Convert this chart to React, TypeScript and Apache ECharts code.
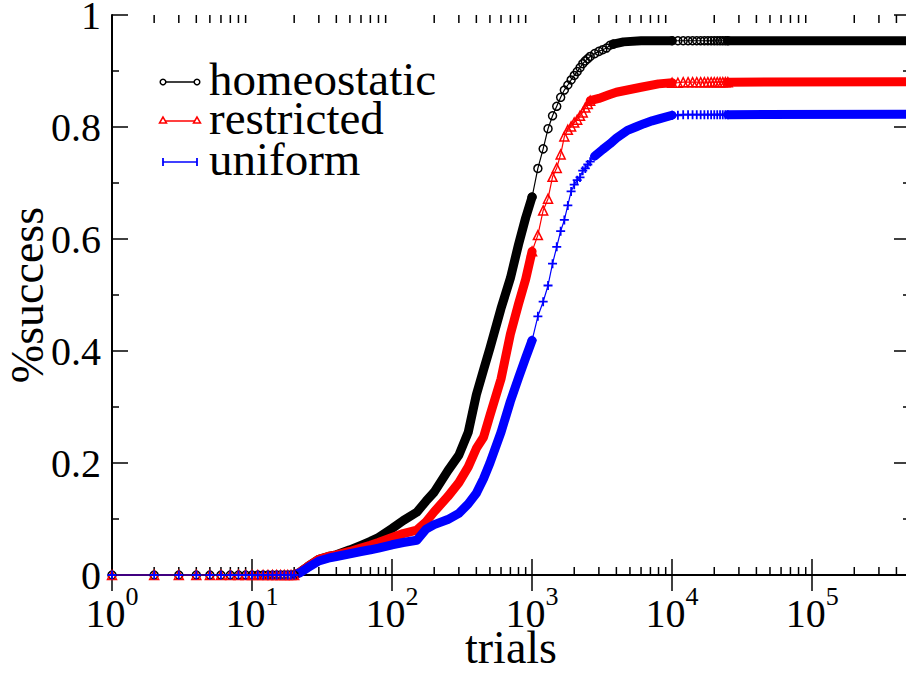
import React, { useEffect, useRef } from "react";
import * as echarts from "echarts";

const FONT = '"Liberation Serif", "Times New Roman", Times, serif';

// ---- axis ticks ----
const xMajorExponents = [0, 1, 2, 3, 4, 5];
const yTickValues = [0, 0.2, 0.4, 0.6, 0.8, 1];
const yTickLabels = ["0", "0.2", "0.4", "0.6", "0.8", "1"];

// ---- data: trials 1..20 (all three curves still at zero) ----
const zeroTrials = [1, 2, 3, 4, 5, 6, 7, 8, 9, 10, 11, 12, 13, 14, 15, 16, 17, 18, 19, 20];
const zeroSuccess = [0, 0, 0, 0, 0, 0, 0, 0, 0, 0, 0, 0, 0, 0, 0, 0, 0, 0, 0, 0];

// ---- dense region (every trial sampled, markers merge into a band) ----
const bandTrials = [20, 22, 25, 30, 35, 40, 50, 60, 70, 80, 100, 120, 150, 175, 200, 250, 300, 350, 400, 450, 500, 600, 700, 800, 900, 1000];
const homeoBand = [0, 0.005, 0.015, 0.028, 0.033, 0.036, 0.045, 0.053, 0.06, 0.067, 0.083, 0.097, 0.112, 0.132, 0.148, 0.186, 0.214, 0.255, 0.322, 0.366, 0.405, 0.476, 0.53, 0.59, 0.638, 0.675];
const restrBand = [0, 0.005, 0.015, 0.028, 0.033, 0.036, 0.042, 0.048, 0.053, 0.058, 0.067, 0.074, 0.08, 0.095, 0.113, 0.14, 0.165, 0.193, 0.226, 0.246, 0.285, 0.35, 0.43, 0.484, 0.528, 0.578];
const unifBand = [0, 0.004, 0.013, 0.025, 0.03, 0.033, 0.038, 0.042, 0.045, 0.048, 0.054, 0.058, 0.062, 0.082, 0.09, 0.099, 0.11, 0.127, 0.146, 0.172, 0.2, 0.255, 0.31, 0.352, 0.388, 0.419];

// ---- sparse region (individual markers visible) ----
const homeoSparseTrials = [1000, 1100, 1200, 1300, 1400, 1500, 1600, 1700, 1800, 1900, 2000, 2100, 2200, 2300, 2400, 2500, 2600, 2800, 3000, 3200, 3400, 3600, 3800];
const homeoSparse = [0.675, 0.726, 0.761, 0.797, 0.82, 0.837, 0.853, 0.866, 0.875, 0.884, 0.892, 0.899, 0.906, 0.913, 0.918, 0.922, 0.926, 0.931, 0.935, 0.938, 0.941, 0.946, 0.948];
const restrSparseTrials = [1000, 1100, 1200, 1300, 1400, 1500, 1600, 1700, 1800, 1900, 2000, 2100, 2200, 2300, 2400, 2500, 2600];
const restrSparse = [0.578, 0.607, 0.651, 0.672, 0.711, 0.727, 0.751, 0.783, 0.795, 0.801, 0.808, 0.813, 0.82, 0.826, 0.835, 0.841, 0.847];
const unifSparseTrials = [1000, 1100, 1200, 1300, 1400, 1500, 1600, 1700, 1800, 1900, 2000, 2100, 2200, 2300, 2400, 2500, 2600, 2800];
const unifSparse = [0.419, 0.462, 0.488, 0.517, 0.556, 0.586, 0.614, 0.634, 0.66, 0.685, 0.697, 0.705, 0.71, 0.722, 0.726, 0.733, 0.738, 0.748];

// ---- second dense region, up to 10^4 ----
const homeoMidTrials = [3800, 4500, 6000, 10000];
const homeoMid = [0.948, 0.952, 0.954, 0.954];
const restrMidTrials = [2600, 3000, 3500, 4000, 5000, 6000, 8000, 10000];
const restrMid = [0.847, 0.851, 0.857, 0.862, 0.867, 0.871, 0.877, 0.879];
const unifMidTrials = [2800, 3200, 3600, 4000, 4800, 5500, 6300, 7200, 8200, 10000];
const unifMid = [0.748, 0.76, 0.77, 0.78, 0.794, 0.8, 0.806, 0.811, 0.815, 0.821];

// ---- plateau markers after 10^4 ----
const plateauTrials = [10000, 11000, 12000, 13000, 14000, 15000, 16000, 17000, 18000, 19000, 20000, 21000, 22000, 23000, 24000, 25000];
const homeoPlateau = [0.954, 0.954, 0.954, 0.954, 0.954, 0.954, 0.954, 0.954, 0.954, 0.954, 0.954, 0.954, 0.954, 0.954, 0.954, 0.954];
const restrPlateau = [0.879, 0.879, 0.88, 0.88, 0.88, 0.88, 0.88, 0.88, 0.88, 0.88, 0.88, 0.88, 0.88, 0.88, 0.88, 0.88];
const unifPlateau = [0.821, 0.821, 0.822, 0.822, 0.822, 0.822, 0.822, 0.822, 0.822, 0.822, 0.822, 0.822, 0.822, 0.822, 0.822, 0.822];

// ---- tail (dense again) ----
const tailTrials = [25000, 500000];
const homeoTail = [0.954, 0.954];
const restrTail = [0.88, 0.881];
const unifTail = [0.822, 0.823];

const BLACK = "#000000";
const RED = "#ff0000";
const BLUE = "#0000ff";
const PLUS = "path://M4,0H6V4H10V6H6V10H4V6H0V4H4Z";

const pairs = (xs: number[], ys: number[]) => xs.map((x, i) => [x, ys[i]]);

const band = (data: number[][], color: string) => ({
  type: "line",
  data,
  symbol: "none",
  clip: false,
  silent: true,
  lineStyle: { color, width: 9, cap: "round", join: "round" },
  emphasis: { disabled: true },
});

const marks = (data: number[][], color: string, symbol: string) => {
  const isPlus = symbol === PLUS;
  return {
    type: "line",
    data,
    symbol,
    symbolSize: isPlus ? 9 : symbol === "triangle" ? 9 : 8,
    showSymbol: true,
    showAllSymbol: true,
    clip: false,
    silent: true,
    lineStyle: { color, width: 1.2 },
    itemStyle: isPlus
      ? { color, borderWidth: 0 }
      : { color: "rgba(255,255,255,0)", borderColor: color, borderWidth: 1.5 },
    emphasis: { disabled: true },
  };
};

const curve = (
  color: string,
  symbol: string,
  bandY: number[],
  sparseX: number[],
  sparseY: number[],
  midX: number[],
  midY: number[],
  platY: number[],
  tailY: number[]
) => [
  band(pairs(bandTrials, bandY), color),
  marks(pairs(zeroTrials, zeroSuccess), color, symbol),
  marks(pairs(sparseX, sparseY), color, symbol),
  band(pairs(midX, midY), color),
  marks(pairs(plateauTrials, platY), color, symbol),
  band(pairs(tailTrials, tailY), color),
];

const minorTicks: number[] = [];
xMajorExponents.forEach((e) => {
  for (let m = 2; m <= 9; m++) {
    const v = m * Math.pow(10, e);
    if (v < 500000) minorTicks.push(v);
  }
});

export default function App() {
  const ref = useRef<HTMLDivElement>(null);
  useEffect(() => {
    if (!ref.current) return;
    const chart = echarts.init(ref.current, null, { renderer: "svg" });

    const axisLine = { show: true, lineStyle: { color: "#000", width: 2 } };
    const xLabelFormatter = (v: number) => {
      const e = Math.log10(v);
      const r = Math.round(e);
      if (Math.abs(e - r) > 1e-6 || xMajorExponents.indexOf(r) < 0) return "";
      return `{b|10}{s|${r}}`;
    };

    const option: any = {
      animation: false,
      backgroundColor: "#fff",
      grid: { left: 112, top: 15, width: 798, height: 560, containLabel: false, outerBoundsMode: "none" },
      xAxis: [
        {
          type: "log",
          logBase: 10,
          min: 1,
          max: 500000,
          position: "bottom",
          axisLine,
          axisTick: { show: true, inside: true, length: 16, lineStyle: { color: "#000", width: 1.5 } },
          splitLine: { show: false },
          axisLabel: {
            margin: 8,
            formatter: xLabelFormatter,
            rich: {
              b: { fontSize: 40, fontFamily: FONT, color: "#000", lineHeight: 38, verticalAlign: "top", padding: [10, 0, 0, 0] },
              s: { fontSize: 26, fontFamily: FONT, color: "#000", lineHeight: 4, verticalAlign: "top" },
            },
          },
          name: "trials",
          nameLocation: "middle",
          nameGap: 55,
          nameMoveOverlap: false,
          nameTextStyle: { fontSize: 46, fontFamily: FONT, color: "#000", lineHeight: 34 },
        },
        {
          type: "log",
          logBase: 10,
          min: 1,
          max: 500000,
          position: "top",
          axisLine,
          axisTick: { show: true, inside: true, length: 16, lineStyle: { color: "#000", width: 1.5 } },
          axisLabel: { show: false },
          splitLine: { show: false },
        },
      ],
      yAxis: [
        {
          type: "value",
          min: 0,
          max: 1,
          interval: 0.2,
          position: "left",
          axisLine,
          axisTick: { show: true, inside: true, length: 16, lineStyle: { color: "#000", width: 1.5 } },
          minorTick: { show: true, splitNumber: 2, length: 7, lineStyle: { color: "#000", width: 1.5 } },
          splitLine: { show: false },
          axisLabel: {
            margin: 11,
            fontSize: 40,
            lineHeight: 28,
            fontFamily: FONT,
            color: "#000",
            formatter: (v: number) => {
              const i = yTickValues.findIndex((t) => Math.abs(t - v) < 1e-9);
              return i >= 0 ? yTickLabels[i] : "";
            },
          },
          name: "%success",
          nameLocation: "middle",
          nameGap: 65,
          nameMoveOverlap: false,
          nameTextStyle: { fontSize: 46, fontFamily: FONT, color: "#000", lineHeight: 40 },
        },
        {
          type: "value",
          min: 0,
          max: 1,
          interval: 0.2,
          position: "right",
          axisLine,
          axisTick: { show: true, inside: true, length: 16, lineStyle: { color: "#000", width: 1.5 } },
          minorTick: { show: true, splitNumber: 2, length: 7, lineStyle: { color: "#000", width: 1.5 } },
          splitLine: { show: false },
          axisLabel: { show: false },
        },
      ],
      series: [
        {
          type: "custom",
          xAxisIndex: 0,
          yAxisIndex: 0,
          silent: true,
          clip: false,
          data: minorTicks.map((v) => [v, 0]),
          renderItem: (_params: any, api: any) => {
            const v = api.value(0);
            const b = api.coord([v, 0]);
            const t = api.coord([v, 1]);
            return {
              type: "group",
              children: [
                { type: "line", shape: { x1: b[0], y1: b[1], x2: b[0], y2: b[1] - 8 }, style: { stroke: "#000", lineWidth: 1.5 } },
                { type: "line", shape: { x1: t[0], y1: t[1], x2: t[0], y2: t[1] + 8 }, style: { stroke: "#000", lineWidth: 1.5 } },
              ],
            };
          },
        },
        ...curve(BLACK, "circle", homeoBand, homeoSparseTrials, homeoSparse, homeoMidTrials, homeoMid, homeoPlateau, homeoTail),
        ...curve(RED, "triangle", restrBand, restrSparseTrials, restrSparse, restrMidTrials, restrMid, restrPlateau, restrTail),
        ...curve(BLUE, PLUS, unifBand, unifSparseTrials, unifSparse, unifMidTrials, unifMid, unifPlateau, unifTail),
      ],
      graphic: [
        // legend
        { type: "line", shape: { x1: 163, y1: 82, x2: 197, y2: 82 }, style: { stroke: BLACK, lineWidth: 1.5 } },
        { type: "circle", shape: { cx: 163, cy: 82, r: 2.8 }, style: { fill: "#fff", stroke: BLACK, lineWidth: 1.5 } },
        { type: "circle", shape: { cx: 197, cy: 82, r: 2.8 }, style: { fill: "#fff", stroke: BLACK, lineWidth: 1.5 } },
        { type: "text", x: 209, y: 79, style: { text: "homeostatic", font: `47px ${FONT}`, lineHeight: 34, fill: "#000", verticalAlign: "middle" } },

        { type: "line", shape: { x1: 163, y1: 121, x2: 197, y2: 121 }, style: { stroke: RED, lineWidth: 1.5 } },
        { type: "polygon", shape: { points: [[163, 117], [159.5, 123], [166.5, 123]] }, style: { fill: "#fff", stroke: RED, lineWidth: 1.5 } },
        { type: "polygon", shape: { points: [[197, 117], [193.5, 123], [200.5, 123]] }, style: { fill: "#fff", stroke: RED, lineWidth: 1.5 } },
        { type: "text", x: 209, y: 118, style: { text: "restricted", font: `47px ${FONT}`, lineHeight: 34, fill: "#000", verticalAlign: "middle" } },

        { type: "line", shape: { x1: 163, y1: 162, x2: 197, y2: 162 }, style: { stroke: BLUE, lineWidth: 1.5 } },
        { type: "line", shape: { x1: 163, y1: 158, x2: 163, y2: 166 }, style: { stroke: BLUE, lineWidth: 1.8 } },
        { type: "line", shape: { x1: 197, y1: 158, x2: 197, y2: 166 }, style: { stroke: BLUE, lineWidth: 1.8 } },
        { type: "text", x: 209, y: 159, style: { text: "uniform", font: `47px ${FONT}`, lineHeight: 34, fill: "#000", verticalAlign: "middle" } },
      ],
    };

    chart.setOption(option);
    return () => chart.dispose();
  }, []);

  return (
    <div
      ref={ref}
      style={{ position: "absolute", left: 0, top: 0, width: 906, height: 674, background: "#fff" }}
    />
  );
}
